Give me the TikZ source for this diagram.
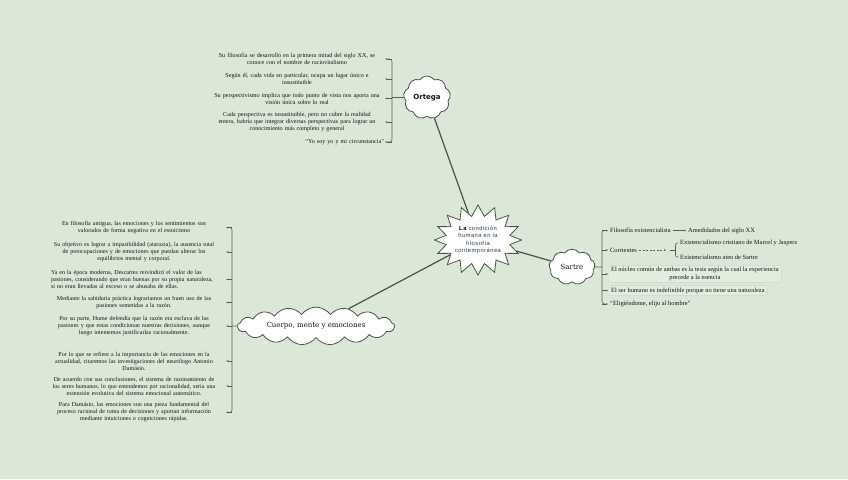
\documentclass[tikz,border=0pt]{standalone}
\usepackage{fontspec}
\setmainfont{Liberation Serif}
\newfontfamily\djserif{DejaVu Serif}
\newfontfamily\djsans{DejaVu Sans}
\newfontfamily\ctrfont[LetterSpace=8]{Liberation Sans}
\usetikzlibrary{shapes.symbols,arrows.meta,calc}
\definecolor{bgc}{RGB}{220,232,215}
\definecolor{linec}{RGB}{70,84,70}
\definecolor{barc}{RGB}{85,95,85}
\definecolor{txtc}{RGB}{20,20,20}
\definecolor{ctrblue}{RGB}{45,55,105}
\definecolor{boxfill}{RGB}{227,237,223}
\definecolor{boxline}{RGB}{205,218,200}
\newcommand\otxt{\fontsize{6.1}{7}\selectfont}
\newcommand\ctxt{\fontsize{6.05}{7}\selectfont}
\newcommand\stxt{\fontsize{6.4}{7.3}\selectfont}
\begin{document}
\begin{tikzpicture}[x=1pt,y=-1pt,
 mainline/.style={draw=linec,line width=1.2pt},
 barline/.style={draw=barc,line width=0.6pt},
 stub/.style={draw=barc,line width=0.5pt,-{Stealth[length=2.2pt,width=1.8pt]}},
 item/.style={text=txtc,inner sep=1pt},
 oitem/.style={item,font=\otxt,text width=174pt,align=center},
 citem/.style={item,font=\ctxt,text width=182pt,align=center},
 sitem/.style={item,font=\stxt,anchor=west,align=left,inner xsep=2pt},
 sbox/.style={sitem,fill=boxfill,draw=boxline,line width=0.4pt,rounded corners=3pt,inner xsep=3pt,inner ysep=2pt},
 cloudnode/.style={cloud,draw=linec,line width=0.8pt,fill=white,inner sep=0pt,text=txtc},
]
\fill[bgc] (0,0) rectangle (848,479);

% central node
\node[starburst, starburst points=16, starburst point height=11pt, random starburst=0,
      draw=linec, line width=0.8pt, fill=white, minimum width=80pt, minimum height=70pt,
      inner sep=0pt, align=center, text=ctrblue, font=\ctrfont\fontsize{5.8}{7.2}\selectfont]
  (center) at (478,240) {{\color{black}\bfseries La} condición\\humana en la\\filosofía\\contemporánea};

% main topic clouds
\node[cloudnode, cloud puffs=9, cloud puff arc=110, minimum width=47pt, minimum height=27pt,
      font=\djsans\bfseries\fontsize{7}{8}\selectfont] (ortega) at (427,97.5) {Ortega};
\node[cloudnode, cloud puffs=9, cloud puff arc=110, minimum width=46pt, minimum height=30pt,
      font=\djserif\fontsize{7}{8}\selectfont] (sartre) at (572,267) {Sartre};
\node[cloudnode, cloud puffs=17, cloud puff arc=110, aspect=5.6, minimum width=157pt, minimum height=28pt,
      font=\djserif\fontsize{7}{8}\selectfont] (cuerpo) at (316,326) {Cuerpo, mente y emociones};

\draw[mainline] (center) -- (ortega);
\draw[mainline] (center) -- (sartre);
\draw[mainline] (center) -- (cuerpo);

% Ortega items
\node[oitem] (o1) at (297,59) {Su filosofía se desarrolló en la primera mitad del siglo XX, se\\conoce con el nombre de raciovitalismo};
\node[oitem] (o2) at (297,79) {Según él, cada vida en particular, ocupa un lugar único e\\insustituible};
\node[oitem] (o3) at (297,98.5) {Su perspectivismo implica que todo punto de vista nos aporta una\\visión única sobre lo real};
\node[oitem] (o4) at (297,122) {Cada perspectiva es insustituible, pero no cubre la realidad\\entera, habría que integrar diversas perspectivas para lograr un\\conocimiento más completo y general};
\node[oitem,align=right] (o5) at (297,142) {“Yo soy yo y mi circunstancia”};
\coordinate (obar) at (392,0);
\draw[barline] (ortega) -- (obar |- ortega);
\draw[barline,rounded corners=2.5pt] ([xshift=3pt]o1.east) -| (obar |- o3.east) |- ([xshift=3pt]o5.east);
\foreach \i in {1,...,5} {\draw[stub] (obar |- o\i.east) -- (o\i.east);}

% Cuerpo items
\node[citem] (c1) at (134,227.5) {En filosofía antigua, las emociones y los sentimientos son\\valorados de forma negativa en el estoicismo};
\node[citem] (c2) at (134,252) {Su objetivo es lograr a impasibilidad (ataraxia), la ausencia total\\de preocupaciones y de emociones que puedan alterar los\\equilibrios mental y corporal.};
\node[citem,align=left,text width=174pt] (c3) at (138,279.5) {Ya en la época moderna, Descartes reivindicó el valor de las\\pasiones, considerando que eran buenas por su propia naturaleza,\\si no eran llevadas al exceso o se abusaba de ellas.};
\node[citem] (c4) at (134,302.5) {Mediante la sabiduría práctica lograríamos un buen uso de las\\pasiones sometidas a la razón.};
\node[citem] (c5) at (134,326) {Por su parte, Hume defendía que la razón era esclava de las\\pasiones y que estas condicionan nuestras decisiones, aunque\\luego intentemos justificarlas racionalmente.};
\node[citem] (c6) at (134,361) {Por lo que se refiere a la importancia de las emociones en la\\actualidad, citaremos las investigaciones del neurólogo Antonio\\Damásio.};
\node[citem] (c7) at (134,386) {De acuerdo con sus conclusiones, el sistema de razonamiento de\\los seres humanos, lo que entendemos por racionalidad, sería una\\extensión evolutiva del sistema emocional automático.};
\node[citem] (c8) at (134,412.5) {Para Damásio, las emociones son una pieza fundamental del\\proceso racional de toma de decisiones y aportan información\\mediante intuiciones o cogniciones rápidas.};
\coordinate (cbar) at (232,0);
\draw[barline] (cuerpo) -- (cbar |- cuerpo);
\draw[barline,rounded corners=2.5pt] ([xshift=3pt]c1.east) -| (cbar |- c4.east) |- ([xshift=3pt]c8.east);
\foreach \i in {1,...,8} {\draw[stub] (cbar |- c\i.east) -- (c\i.east);}

% Sartre items
\node[sitem] (s1) at (608,230.5) {Filosofía existencialista};
\node[sitem] (s1b) at (686,230.5) {Amedidados del siglo XX};
\node[sitem] (s2) at (608,250) {Corrientes};
\coordinate (sdash) at (666,250);
\coordinate (sbj) at (670,250);
\coordinate (sbx) at (675.5,0);
\node[sitem] (s2a) at (678,243) {Existencialismo cristiano de Marcel y Jaspers};
\node[sitem] (s2b) at (678,257) {Existencialismo ateo de Sartre};
\node[sbox,align=center] (s3) at (608,274) {El núcleo común de ambas es la tesis según la cual la experiencia\\precede a la esencia};
\node[sbox] (s4) at (608,290.5) {El ser humano es indefinible porque no tiene una naturaleza};
\node[sitem] (s5) at (608,304) {“Eligiéndome, elijo al hombre”};
\coordinate (sbar) at (602,0);
\draw[barline] (sartre) -- (sbar |- sartre);
\draw[barline,rounded corners=2.5pt] ([xshift=-3pt]s1.west) -| (sbar |- s3.west) |- ([xshift=-3pt]s5.west);
\foreach \i in {1,...,5} {\draw[stub] (sbar |- s\i.west) -- (s\i.west);}
\draw[stub] (s1.east) -- (s1b.west);
\draw[stub,dash pattern=on 2pt off 1.5pt] (s2.east) -- (sdash);
\draw[barline] (sbj) -- (sbx |- sbj);
\draw[barline,rounded corners=2pt] (s2a.west) -| (sbx |- sbj) |- (s2b.west);
\end{tikzpicture}
\end{document}
